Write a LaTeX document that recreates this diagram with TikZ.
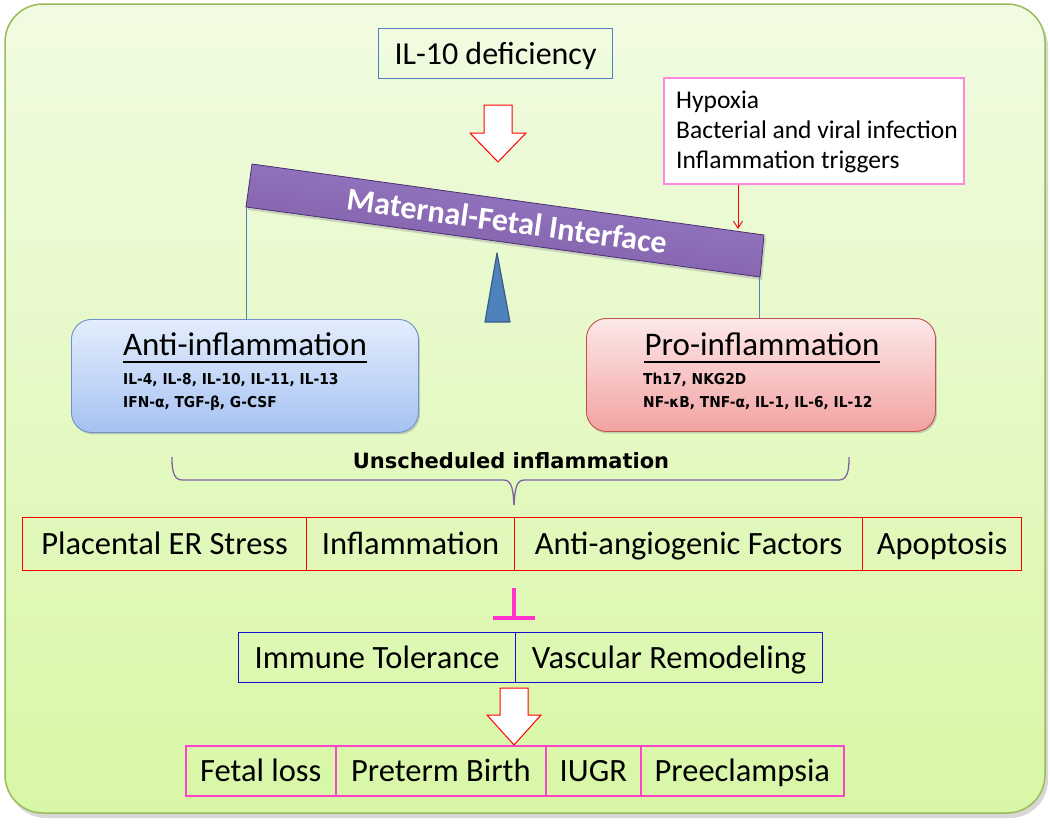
\documentclass[tikz,border=0pt]{standalone}
\usepackage{fontspec}
\setmainfont{Carlito}
\newfontfamily\tahomalike[FakeStretch=0.92]{DejaVu Sans}
\newfontfamily\verdanalike{DejaVu Sans}
\usetikzlibrary{arrows.meta,shadows,calc}
\definecolor{bgtop}{HTML}{F1FBE2}
\definecolor{bgbot}{HTML}{D8F7A6}
\definecolor{bgborder}{HTML}{9BBB59}
\definecolor{steel}{HTML}{4F81BD}
\definecolor{steeldark}{HTML}{385D8A}
\definecolor{hypborder}{HTML}{FF88DD}
\definecolor{beamfill}{HTML}{7A5AA3}
\definecolor{beamtop}{HTML}{9C7EC8}
\definecolor{beamdark}{HTML}{4B2E72}
\definecolor{antitop}{HTML}{E3EDFC}
\definecolor{antibot}{HTML}{A6C2F2}
\definecolor{antiborder}{HTML}{6C93C9}
\definecolor{protop}{HTML}{FDE8E8}
\definecolor{probot}{HTML}{F3A2A2}
\definecolor{proborder}{HTML}{C0504D}
\definecolor{bracecol}{HTML}{8064A2}
\definecolor{inhib}{HTML}{FF33CC}
\definecolor{pinkline}{HTML}{FF44CC}
\definecolor{blueline}{HTML}{1010D0}
\begin{document}
\begin{tikzpicture}[x=1pt,y=-1pt,
  cell/.style={draw, anchor=north west, inner sep=0pt, text height=28pt, text depth=7pt, font=\fontsize{32.5}{36}\selectfont},
  redcell/.style={cell, draw=red, line width=1.2pt, minimum height=53},
  bluecell/.style={cell, draw=blueline, line width=1.2pt, minimum height=50},
  pinkcell/.style={cell, draw=pinkline, line width=1.6pt, minimum height=50},
  bigbox/.style={anchor=north west, rounded corners=20, line width=0.9pt, drop shadow={shadow xshift=1.5pt, shadow yshift=-2pt, opacity=0.35}},
  title/.style={anchor=base, inner sep=0pt, font=\fontsize{33}{37}\selectfont},
  sub/.style={anchor=base west, inner sep=0pt, font=\tahomalike\bfseries\fontsize{15}{19}\selectfont},
  hollow/.style={draw=red, fill=white, line width=1pt, line join=miter}
]
\useasboundingbox (0,0) rectangle (1050,827);
% background
\fill[black!35, opacity=0.45, rounded corners=38] (8,9) rectangle (1048,818);
\shade[top color=bgtop, bottom color=bgbot, rounded corners=38] (5,4) rectangle (1045,813);
\draw[bgborder, line width=1.5pt, rounded corners=38] (5,4) rectangle (1045,813);

% IL-10 box
\node[draw=steel, line width=1pt, anchor=north west, minimum width=234, minimum height=50, inner sep=0pt, text height=28pt, text depth=7pt, font=\fontsize{32}{36}\selectfont] (il10) at (378,28) {IL-10 deficiency};

% hollow arrow top
\draw[hollow] (484,105) -- (512,105) -- (512,133) -- (526,133) -- (498,162) -- (470,133) -- (484,133) -- cycle;

% Hypoxia box
\node[draw=hypborder, fill=white, line width=1.5pt, anchor=north west, minimum width=300, minimum height=106, inner sep=0pt] (hyp) at (663,77) {};
\node[anchor=north west, inner sep=0pt, align=left, font=\fontsize{25.5}{30}\selectfont] (hyptext) at (676,91) {Hypoxia\\Bacterial and viral infection\\Inflammation triggers};

% beam
\coordinate (btl) at (252,164);
\coordinate (btr) at (764,235);
\coordinate (bbr) at (760,277);
\coordinate (bbl) at (246,207);
\fill[black!40, opacity=0.4] ($(btl)+(2,3)$) -- ($(btr)+(2,3)$) -- ($(bbr)+(2,3)$) -- ($(bbl)+(2,3)$) -- cycle;
\shade[top color=beamtop, bottom color=beamfill, shading angle=-8] (btl) -- (btr) -- (bbr) -- (bbl) -- cycle;
\draw[beamdark, line width=0.8pt, line join=round] (btl) -- (btr) -- (bbr) -- (bbl) -- cycle;
\node[rotate=-7.9, text=white, font=\bfseries\fontsize{32}{36}\selectfont] (beamtext) at (507,221) {Maternal-Fetal Interface};

% red arrow from triggers
\coordinate (hit) at (738,229);
\draw[red, line width=0.9pt, -{Straight Barb[length=7pt, width=9pt]}] (hyp.south -| hit) -- (hit);

% fulcrum
\draw[steeldark, fill=steel, line width=1.2pt, line join=round] (497,253) -- (510,322) -- (485,322) -- cycle;

% anti box
\node[bigbox, draw=antiborder, top color=antitop, bottom color=antibot, minimum width=347, minimum height=113] (anti) at (71,319) {};
\node[title] (antititle) at (245,355) {Anti-inflammation};
\draw[line width=2pt] ($(antititle.base west)+(0,7)$) -- ($(antititle.base east)+(0,7)$);
\node[sub] (antil1) at (123,384) {IL-4, IL-8, IL-10, IL-11, IL-13};
\node[sub] (antil2) at (123,407) {IFN-α, TGF-β, G-CSF};

% pro box
\node[bigbox, draw=proborder, top color=protop, bottom color=probot, minimum width=349, minimum height=113] (pro) at (586,318) {};
\node[title] (protitle) at (762,355) {Pro-inflammation};
\draw[line width=2pt] ($(protitle.base west)+(0,7)$) -- ($(protitle.base east)+(0,7)$);
\node[sub] (prol1) at (643,384) {Th17, NKG2D};
\node[sub] (prol2) at (643,407) {NF-κB, TNF-α, IL-1, IL-6, IL-12};

% beam to boxes
\draw[steel, line width=0.9pt] (bbl) -- (anti.north -| bbl);
\draw[steel, line width=0.9pt] ($(bbr)+(-1,0)$) -- (pro.north -| 759,0);

% brace
\node[inner sep=0pt, font=\verdanalike\bfseries\fontsize{21}{25}\selectfont] (unsch) at (511,461) {Unscheduled inflammation};
\draw[bracecol, line width=1.3pt, line join=round]
  (172,457) .. controls (172,466) and (172,480) .. (182,480) -- (503,480)
  .. controls (510,480) and (513,484) .. (514,505);
\draw[bracecol, line width=1.3pt, line join=round]
  (849,457) .. controls (849,466) and (849,480) .. (839,480) -- (525,480)
  .. controls (518,480) and (515,484) .. (514,505);

% row 1
\node[redcell, minimum width=284] (stress) at (22,517) {Placental ER Stress};
\node[redcell, minimum width=208] (infl) at (306,517) {Inflammation};
\node[redcell, minimum width=348] (angio) at (514,517) {Anti-angiogenic Factors};
\node[redcell, minimum width=159] (apop) at (862,517) {Apoptosis};

% inhibition
\coordinate (inhtop) at (514,588);
\coordinate (inhbar) at (514,618);
\draw[inhib, line width=4pt] (inhtop) -- (inhbar);
\draw[inhib, line width=4pt] ($(inhbar)+(-21,0)$) -- ($(inhbar)+(21,0)$);

% row 2
\node[bluecell, minimum width=277] (tol) at (238,632) {Immune Tolerance};
\node[bluecell, minimum width=307] (vasc) at (515,632) {Vascular Remodeling};

% hollow arrow bottom
\draw[hollow] (500,688) -- (528,688) -- (528,715) -- (541,715) -- (514,745) -- (487,715) -- (500,715) -- cycle;

% row 3
\node[pinkcell, minimum width=150] (loss) at (185,745) {Fetal loss};
\node[pinkcell, minimum width=210] (preterm) at (335,745) {Preterm Birth};
\node[pinkcell, minimum width=95] (iugr) at (545,745) {IUGR};
\node[pinkcell, minimum width=203] (pree) at (640,745) {Preeclampsia};
\end{tikzpicture}
\end{document}
